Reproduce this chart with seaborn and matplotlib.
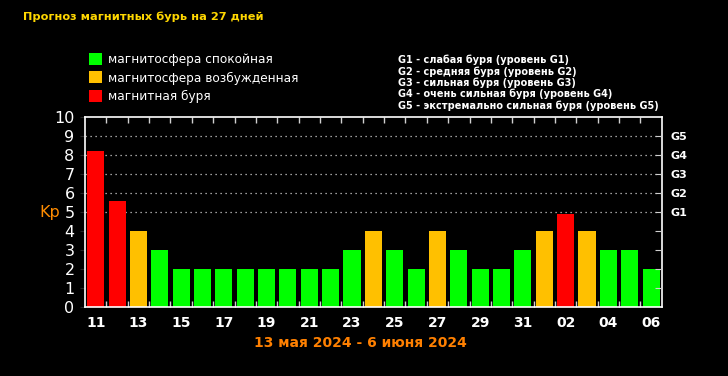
import numpy as np
import pandas as pd
import seaborn as sns
import matplotlib.pyplot as plt
from matplotlib.patches import Patch

days = [11, 12, 13, 14, 15, 16, 17, 18, 19, 20, 21, 22, 23, 24, 25, 26, 27, 28, 29, 30, 31,
        1, 2, 3, 4, 5, 6]
kp = [8.2, 5.6, 4, 3, 2, 2, 2, 2, 2, 2, 2, 2, 3, 4, 3, 2, 4, 3, 2, 2, 3, 4, 4.9, 4, 3, 3, 2]
level = ["storm", "storm", "active", "quiet", "quiet", "quiet", "quiet", "quiet", "quiet",
         "quiet", "quiet", "quiet", "quiet", "active", "quiet", "quiet", "active", "quiet",
         "quiet", "quiet", "quiet", "active", "storm", "active", "quiet", "quiet", "quiet"]
legend_labels = ["магнитосфера спокойная", "магнитосфера возбужденная", "магнитная буря"]
g_labels = ["G1", "G2", "G3", "G4", "G5"]
g_text = ["G1 - слабая буря (уровень G1)",
          "G2 - средняя буря (уровень G2)",
          "G3 - сильная буря (уровень G3)",
          "G4 - очень сильная буря (уровень G4)",
          "G5 - экстремально сильная буря (уровень G5)"]

palette = {"quiet": "#00ff00", "active": "#ffc000", "storm": "#ff0000"}

df = pd.DataFrame({"pos": range(len(days)), "kp": kp, "level": level})

sns.set_style("dark")
plt.rcParams["font.family"] = ["DejaVu Sans"]

fig = plt.figure(figsize=(7.28, 3.76), dpi=100, facecolor="black")
ax = fig.add_axes([0.1168, 0.1835, 0.7922, 0.5055])
ax.set_facecolor("black")

sns.barplot(data=df, x="pos", y="kp", hue="level", palette=palette, dodge=False,
            width=0.8, legend=False, ax=ax, saturation=1, edgecolor="none")

ax.set_xlim(-0.5, len(days) - 0.5)
ax.set_ylim(0, 10)
ax.grid(False)

# dotted G-level lines
for y in range(5, 10):
    ax.axhline(y, color="#d0d0d0", lw=0.9, ls=(0, (1, 3)), zorder=0)

for s in ax.spines.values():
    s.set_color("white")
    s.set_linewidth(1.2)

ax.set_yticks(range(0, 11))
ax.set_yticklabels([str(v) for v in range(0, 11)], color="white", fontsize=11.5)
ax.tick_params(axis="y", which="both", left=False, pad=4)

ax.set_xticks(range(0, len(days), 2))
ax.set_xticklabels([f"{d:02d}" if d < 10 else str(d) for d in days[::2]],
                   color="white", fontsize=10, fontweight="bold")
ax.tick_params(axis="x", which="major", bottom=False, pad=3)
ax.set_xticks(np.arange(0.5, len(days) - 0.5, 1), minor=True)
ax.tick_params(axis="x", which="minor", bottom=True, top=True, direction="in",
               length=4, color="#d0d0d0", width=1)
ax.set_xlabel("")
ax.set_ylabel("Kp", color="#ff8c00", fontsize=11.5, rotation=0, labelpad=14)
ax.yaxis.set_label_coords(-0.062, 0.46)

ax2 = ax.twinx()
ax2.set_ylim(0, 10)
ax2.set_yticks(range(1, 10))
ax2.set_yticklabels(["", "", "", ""] + g_labels, color="white", fontsize=8,
                    fontweight="bold")
ax2.tick_params(axis="y", direction="in", length=5, color="#d0d0d0", pad=6)
ax2.grid(False)
for s in ax2.spines.values():
    s.set_visible(False)

fig.text(0.032, 0.955, "Прогноз магнитных бурь на 27 дней", color="#ffd700",
         fontsize=8.2, fontweight="bold", va="center")

handles = [Patch(facecolor=palette[k], edgecolor="none") for k in ["quiet", "active", "storm"]]
fig.legend(handles, legend_labels, loc="upper left", bbox_to_anchor=(0.115, 0.872),
           frameon=False, labelcolor="white", fontsize=8.7, handlelength=1.15,
           handleheight=1.15, handletextpad=0.45, labelspacing=0.45, borderaxespad=0)

for i, t in enumerate(g_text):
    fig.text(0.547, 0.84 - i * 0.03, t, color="white", fontsize=7, fontweight="bold",
             va="center")

fig.text(0.495, 0.087, "13 мая 2024 - 6 июня 2024", color="#ff8000", fontsize=10,
         fontweight="bold", ha="center", va="center")

fig.savefig("out.png", dpi=100, facecolor="black")
